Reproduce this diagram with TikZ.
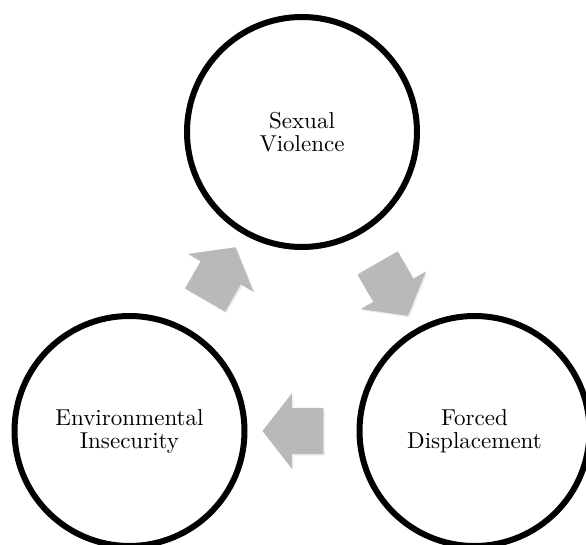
\documentclass[tikz,border=0pt]{standalone}
\usepackage{fontspec}
\setmainfont{lmroman10-regular}[Extension=.otf]
\usetikzlibrary{shapes.arrows,shadows}
\begin{document}
\begin{tikzpicture}[x=1pt,y=1pt,
  ciclo/.style={circle,draw=black,line width=6pt,fill=white,minimum size=230pt,inner sep=0pt,
    align=center,font=\fontsize{23}{23}\selectfont,
    drop shadow={shadow xshift=2pt,shadow yshift=-2pt,opacity=0.2}},
  flecha/.style={single arrow,fill=gray!55,draw=none,inner xsep=0pt,inner ysep=23pt,
    minimum height=61pt,minimum width=75pt,single arrow head extend=14.5pt,
    single arrow tip angle=104,sloped,allow upside down,
    drop shadow={shadow xshift=1.5pt,shadow yshift=-1.5pt,opacity=0.15}}]
\useasboundingbox (0,0) rectangle (586,544);
% los tres circulos del ciclo
\node[ciclo] (sv) at (302,412) {Sexual\\Violence};
\node[ciclo] (fd) at (474.5,113) {Forced\\Displacement};
\node[ciclo] (ei) at (129.5,113) {Environmental\\Insecurity};
% flechas entre circulos
\path (sv) -- node[flecha] (a1) {} (fd);
\path (fd) -- node[flecha] (a2) {} (ei);
\path (ei) -- node[flecha] (a3) {} (sv);
\end{tikzpicture}
\end{document}
